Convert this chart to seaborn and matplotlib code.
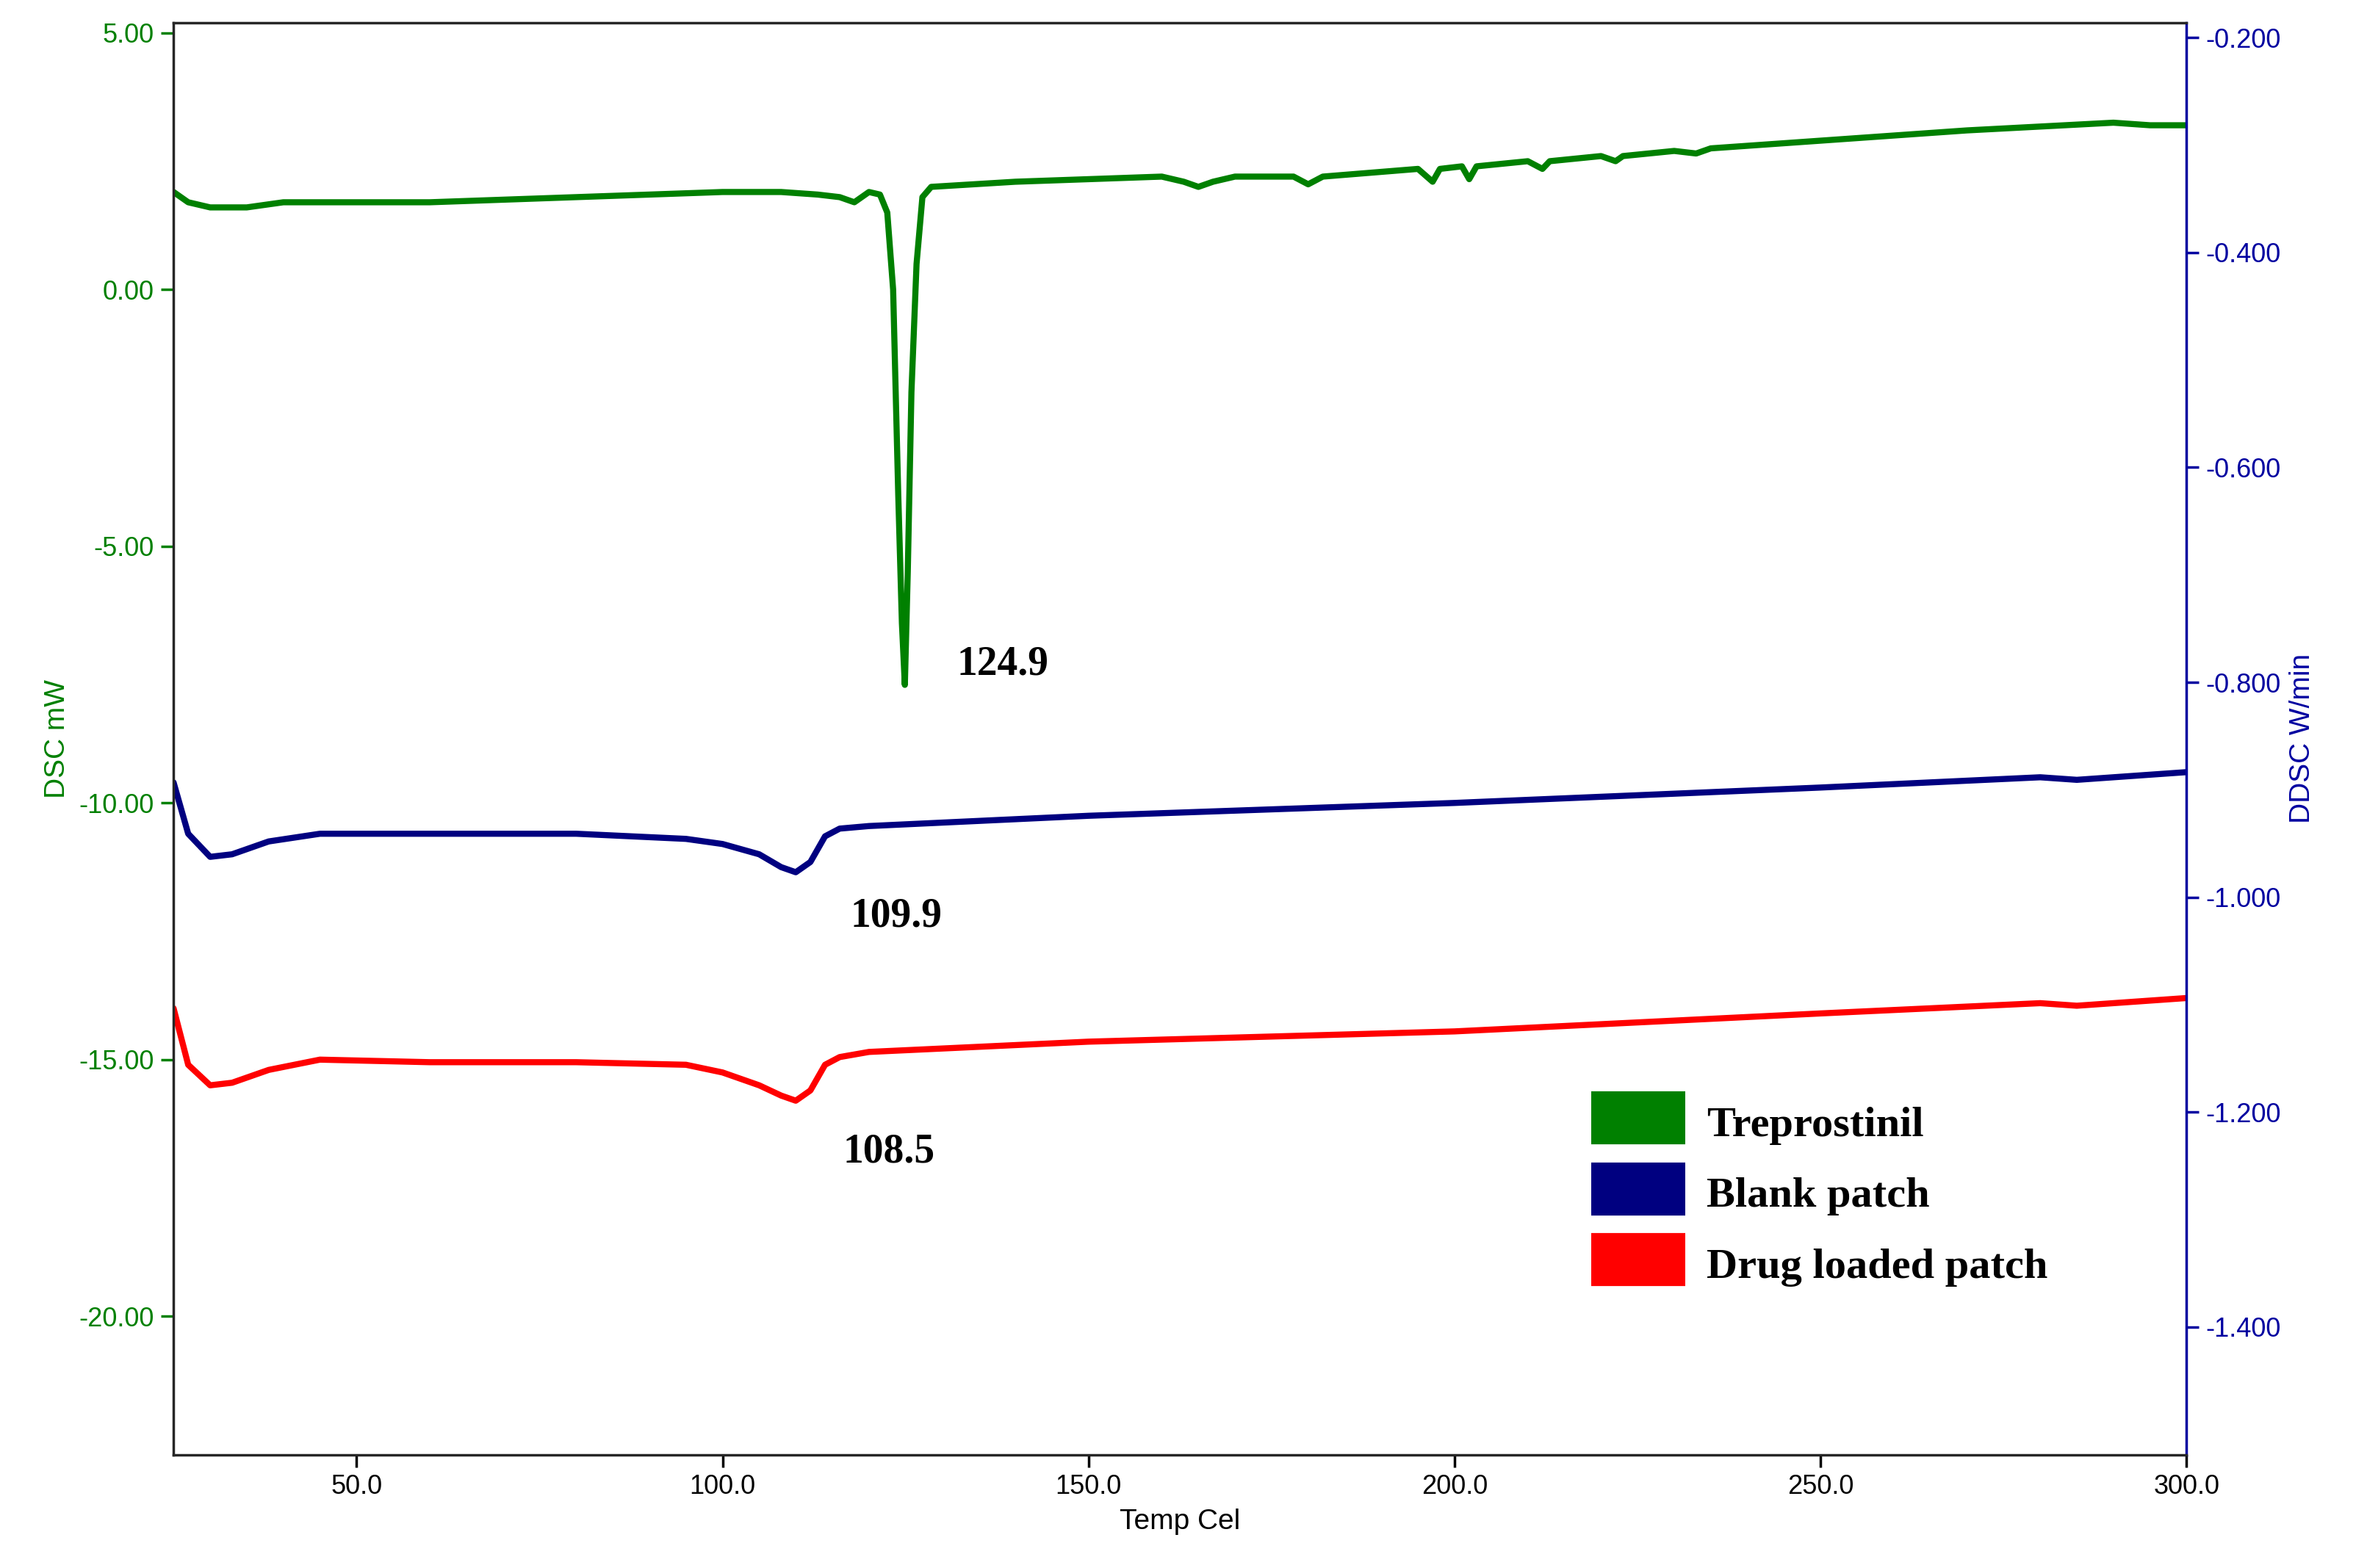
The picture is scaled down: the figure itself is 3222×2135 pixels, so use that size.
import matplotlib
matplotlib.use("Agg")
import matplotlib.pyplot as plt
import seaborn as sns
import numpy as np
import pandas as pd

sns.set_theme(style="white")
plt.rcParams['font.family'] = ['Liberation Sans', 'DejaVu Sans']
plt.rcParams['text.color'] = 'black'

treprostinil_t = [25, 27, 30, 35, 40, 60, 80, 100, 108, 113, 116, 118, 120, 121.5, 122.5, 123.3, 124.0, 124.5, 124.9, 125.3, 125.8, 126.5, 127.3, 128.5, 140, 160, 163, 165, 167, 170, 178, 180, 182, 195, 197, 198, 201, 202, 203, 210, 212, 213, 220, 222, 223, 230, 233, 235, 250, 270, 290, 295, 300]
treprostinil_v = [1.9, 1.7, 1.6, 1.6, 1.7, 1.7, 1.8, 1.9, 1.9, 1.85, 1.8, 1.7, 1.9, 1.85, 1.5, 0.0, -4.0, -6.5, -7.7, -5.5, -2.0, 0.5, 1.8, 2.0, 2.1, 2.2, 2.1, 2.0, 2.1, 2.2, 2.2, 2.05, 2.2, 2.35, 2.1, 2.35, 2.4, 2.15, 2.4, 2.5, 2.35, 2.5, 2.6, 2.5, 2.6, 2.7, 2.65, 2.75, 2.9, 3.1, 3.25, 3.2, 3.2]

blank_t = [25, 27, 30, 33, 38, 45, 60, 80, 95, 100, 105, 108, 110, 112, 114, 116, 120, 150, 200, 250, 280, 285, 300]
blank_v = [-9.6, -10.6, -11.05, -11.0, -10.75, -10.6, -10.6, -10.6, -10.7, -10.8, -11.0, -11.25, -11.35, -11.15, -10.65, -10.5, -10.45, -10.25, -10.0, -9.7, -9.5, -9.55, -9.4]

drug_t = [25, 27, 30, 33, 38, 45, 60, 80, 95, 100, 105, 108, 110, 112, 114, 116, 120, 150, 200, 250, 280, 285, 300]
drug_v = [-14.0, -15.1, -15.5, -15.45, -15.2, -15.0, -15.05, -15.05, -15.1, -15.25, -15.5, -15.7, -15.8, -15.6, -15.1, -14.95, -14.85, -14.65, -14.45, -14.1, -13.9, -13.95, -13.8]

peak_labels = ["124.9", "109.9", "108.5"]
legend_labels = ["Treprostinil", "Blank patch", "Drug loaded patch"]
colors = ["#008000", "#000080", "#ff0000"]

fig = plt.figure(figsize=(16.115, 10.675), dpi=200)
ax = fig.add_axes([0.0733, 0.0721, 0.8502, 0.9135])
for t, v, c, lab in zip([treprostinil_t, blank_t, drug_t], [treprostinil_v, blank_v, drug_v], colors, legend_labels):
    df = pd.DataFrame({"t": t, "v": v})
    sns.lineplot(data=df, x="t", y="v", color=c, lw=3, ax=ax, label=lab)

ax.set_xlim(25, 300)
ax.set_ylim(-22.7, 5.2)
ax.set_xticks([50, 100, 150, 200, 250, 300])
ax.set_xticklabels([f"{x:.1f}" for x in [50, 100, 150, 200, 250, 300]])
ax.set_yticks([5, 0, -5, -10, -15, -20])
ax.set_yticklabels([f"{y:.2f}" for y in [5, 0, -5, -10, -15, -20]])
ax.tick_params(axis='y', colors="#008000", labelsize=13, direction='out', length=6, left=True)
ax.tick_params(axis='x', colors="black", labelsize=13, direction='out', length=6, bottom=True)
ax.set_xlabel("Temp Cel", fontsize=14, color="black")
ax.set_ylabel("DSC mW", fontsize=14, color="#008000")
for s in ax.spines.values():
    s.set_color("black"); s.set_linewidth(1)

ax2 = ax.twinx()
ax2.set_ylim(-1.519, -0.186)
rt = [-0.2, -0.4, -0.6, -0.8, -1.0, -1.2, -1.4]
ax2.set_yticks(rt)
ax2.set_yticklabels([f"{y:.3f}" for y in rt])
ax2.tick_params(axis='y', colors="#0000a0", labelsize=13, direction='out', length=6, right=True)
ax2.set_ylabel("DDSC W/min", fontsize=14, color="#0000a0")
ax2.spines['right'].set_color("#0000a0")
ax2.grid(False); ax.grid(False)

ann = dict(fontsize=20, fontweight='bold', family=['Liberation Serif'], color='black')
ax.text(132, -7.5, peak_labels[0], **ann)
ax.text(117.5, -12.4, peak_labels[1], **ann)
ax.text(116.5, -17.0, peak_labels[2], **ann)

leg = ax.legend(loc='upper left', bbox_to_anchor=(0.685, 0.275), frameon=False,
                prop={'family': 'Liberation Serif', 'weight': 'bold', 'size': 21},
                handlelength=2.2, handleheight=1.2, labelspacing=0.6, handletextpad=0.5)
for h in leg.legend_handles:
    h.set_linewidth(26)
    h.set_solid_capstyle('butt')
for t in leg.get_texts():
    t.set_color('black')
fig.savefig("out.png", dpi=200)
